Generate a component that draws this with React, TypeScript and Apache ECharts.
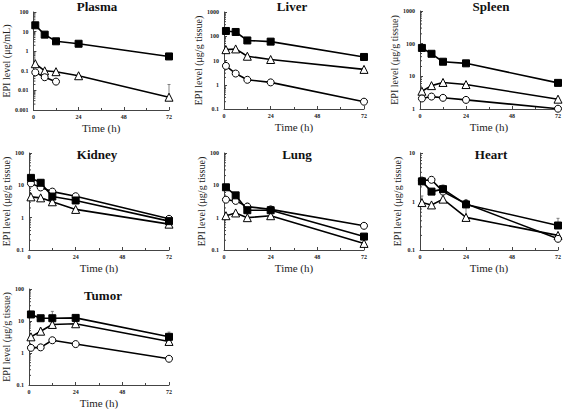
import React, { useEffect, useRef } from "react";
import * as echarts from "echarts";

// Sampling times (h)
const TIMES = [1, 6, 12, 24, 72];

// Values (µg/mL or µg/g tissue)
const plasmaSquare = [21, 7, 3.2, 2.4, 0.54];
const plasmaTriangle = [0.23, 0.1, 0.09, 0.056, 0.0045];
const plasmaCircle = [0.083, 0.047, 0.028, null, null];

const liverSquare = [165, 150, 67, 60, 14];
const liverTriangle = [28, 30, 15, 11, 4.3];
const liverCircle = [6, 2.9, 1.6, 1.25, 0.2];

const spleenSquare = [74, 49, 28, 25, 6.3];
const spleenTriangle = [3.5, 5.2, 6.5, 5.6, 2.0];
const spleenCircle = [2.1, 2.4, 2.2, 1.9, 1.02];

const kidneySquare = [17, 12, 4.5, 3.4, 0.78];
const kidneyTriangle = [4.4, 4.1, 3.1, 1.8, 0.63];
const kidneyCircle = [11.5, 8.6, 6.4, 4.6, 0.92];

const lungSquare = [8.7, 4.9, 1.7, 1.7, 0.26];
const lungTriangle = [1.15, 1.4, 1.0, 1.15, 0.16];
const lungCircle = [3.6, 3.3, 2.2, 1.8, 0.56];

const heartSquare = [2.6, 1.6, 1.8, 0.87, 0.32];
const heartTriangle = [0.95, 0.85, 1.12, 0.47, 0.2];
const heartCircle = [2.7, 2.8, 1.6, 0.9, 0.17];

const tumorSquare = [16, 12.2, 12.2, 12.5, 3.2];
const tumorTriangle = [3.2, 4.8, 7.8, 8.2, 2.3];
const tumorCircle = [1.45, 1.5, 2.5, 1.9, 0.66];

// Upper ends of the visible error bars (null = no visible bar)
const plasmaErr = { sq: [null, null, null, null, null], tri: [null, null, null, null, 0.02], cir: [null, null, null, null, null] };
const liverErr = { sq: [null, null, null, null, null], tri: [null, null, null, null, null], cir: [null, null, null, null, null] };
const spleenErr = { sq: [95, null, null, null, null], tri: [null, null, null, null, null], cir: [null, null, null, null, null] };
const kidneyErr = { sq: [null, 15, null, null, null], tri: [null, null, null, null, null], cir: [null, null, null, null, null] };
const lungErr = { sq: [null, null, null, null, null], tri: [null, null, null, null, null], cir: [null, null, 2.8, null, null] };
const heartErr = { sq: [null, null, 2.2, null, 0.45], tri: [1.3, null, null, 0.9, null], cir: [null, 3.2, null, 1.1, null] };
const tumorErr = { sq: [null, null, 20, null, 4.5], tri: [null, 6, null, null, null], cir: [null, 1.8, null, null, null] };

const PANELS = [
  { title: "Plasma", unit: "EPI level (μg/mL)", min: 0.001, max: 100, sq: plasmaSquare, tri: plasmaTriangle, cir: plasmaCircle, err: plasmaErr },
  { title: "Liver", unit: "EPI level (μg/g tissue)", min: 0.1, max: 1000, sq: liverSquare, tri: liverTriangle, cir: liverCircle, err: liverErr },
  { title: "Spleen", unit: "EPI level (μg/g tissue)", min: 1, max: 1000, sq: spleenSquare, tri: spleenTriangle, cir: spleenCircle, err: spleenErr },
  { title: "Kidney", unit: "EPI level (μg/g tissue)", min: 0.1, max: 100, sq: kidneySquare, tri: kidneyTriangle, cir: kidneyCircle, err: kidneyErr },
  { title: "Lung", unit: "EPI level (μg/g tissue)", min: 0.1, max: 100, sq: lungSquare, tri: lungTriangle, cir: lungCircle, err: lungErr },
  { title: "Heart", unit: "EPI level (μg/g tissue)", min: 0.1, max: 10, sq: heartSquare, tri: heartTriangle, cir: heartCircle, err: heartErr },
  { title: "Tumor", unit: "EPI level (μg/g tissue)", min: 0.1, max: 100, sq: tumorSquare, tri: tumorTriangle, cir: tumorCircle, err: tumorErr },
];

// Layout (pixels)
const LAYOUT = [
  { left: 29, top: 12, height: 98, titleX: 97, titleY: 0 },
  { left: 224, top: 12, height: 97, titleX: 292, titleY: 0 },
  { left: 420, top: 11, height: 98, titleX: 491, titleY: 0 },
  { left: 29, top: 153, height: 97, titleX: 97, titleY: 148 },
  { left: 224, top: 153, height: 97, titleX: 297, titleY: 148 },
  { left: 420, top: 153, height: 97, titleX: 491, titleY: 148 },
  { left: 29, top: 289, height: 98, titleX: 103, titleY: 289 },
];
const PLOT_W = 140;
const SERIF = "Liberation Serif, Times New Roman, serif";

function minorLogTicks(min: number, max: number) {
  const out: number[][] = [];
  const lo = Math.round(Math.log10(min));
  const hi = Math.round(Math.log10(max));
  for (let k = lo; k < hi; k++) {
    for (let m = 2; m <= 9; m++) out.push([0, m * Math.pow(10, k)]);
  }
  return out;
}

export default function App() {
  const ref = useRef<HTMLDivElement>(null);
  useEffect(() => {
    if (!ref.current) return;
    const chart = echarts.init(ref.current, undefined, { renderer: "svg" });
    const grids: any[] = [];
    const xAxes: any[] = [];
    const yAxes: any[] = [];
    const series: any[] = [];
    const titles: any[] = [];
    PANELS.forEach((p, i) => {
      const L = LAYOUT[i];
      grids.push({ left: L.left, top: L.top, width: PLOT_W, height: L.height });
      xAxes.push({
        gridIndex: i,
        type: "value",
        min: 0,
        max: 72,
        interval: 24,
        name: "Time (h)",
        nameLocation: "middle",
        nameGap: 12,
        nameTextStyle: { fontFamily: SERIF, fontSize: 11, color: "#222" },
        axisLine: { lineStyle: { color: "#444", width: 1 } },
        axisTick: { inside: true, length: 3, lineStyle: { color: "#444" } },
        minorTick: { show: true, splitNumber: 2, length: 2, lineStyle: { color: "#444" } },
        splitLine: { show: false },
        axisLabel: { fontFamily: SERIF, fontSize: 6, fontWeight: "bold", color: "#222", margin: 4 },
      });
      yAxes.push({
        gridIndex: i,
        type: "log",
        logBase: 10,
        min: p.min,
        max: p.max,
        name: p.unit,
        nameLocation: "middle",
        nameRotate: 90,
        nameGap: 18,
        nameTextStyle: { fontFamily: SERIF, fontSize: 10, color: "#222" },
        axisLine: { show: true, lineStyle: { color: "#444", width: 1 } },
        axisTick: { show: true, inside: true, length: 3, lineStyle: { color: "#444" } },
        splitLine: { show: false },
        axisLabel: {
          fontFamily: SERIF,
          fontSize: 6,
          fontWeight: "bold",
          color: "#222",
          margin: 5,
          formatter: (v: number) => String(parseFloat(v.toPrecision(3))),
        },
      });
      titles.push({
        text: p.title,
        left: L.titleX,
        top: L.titleY,
        padding: 0,
        textAlign: "center",
        textStyle: { fontFamily: SERIF, fontSize: 13, fontWeight: "bold", color: "#111" },
      });
      series.push({
        type: "custom",
        xAxisIndex: i,
        yAxisIndex: i,
        silent: true,
        data: minorLogTicks(p.min, p.max),
        renderItem: (params: any, api: any) => {
          const c = api.coord([api.value(0), api.value(1)]);
          return {
            type: "line",
            shape: { x1: c[0], y1: c[1], x2: c[0] + 2, y2: c[1] },
            style: { stroke: "#444", lineWidth: 1 },
          };
        },
      });
      // error bars
      const errData: number[][] = [];
      (["sq", "tri", "cir"] as const).forEach((k) => {
        const vals = (p as any)[k] as (number | null)[];
        const ups = (p.err as any)[k] as (number | null)[];
        TIMES.forEach((t, j) => {
          if (ups[j] != null && vals[j] != null) errData.push([t, vals[j] as number, ups[j] as number]);
        });
      });
      series.push({
        type: "custom",
        xAxisIndex: i,
        yAxisIndex: i,
        silent: true,
        z: 1,
        data: errData,
        renderItem: (params: any, api: any) => {
          const a = api.coord([api.value(0), api.value(1)]);
          const b = api.coord([api.value(0), api.value(2)]);
          return {
            type: "group",
            children: [
              { type: "line", shape: { x1: a[0], y1: a[1], x2: b[0], y2: b[1] }, style: { stroke: "#666", lineWidth: 0.8 } },
              { type: "line", shape: { x1: b[0] - 1.5, y1: b[1], x2: b[0] + 1.5, y2: b[1] }, style: { stroke: "#666", lineWidth: 0.8 } },
            ],
          };
        },
      });
      const mk = (vals: (number | null)[], symbol: string, size: number, filled: boolean) => ({
        type: "line",
        xAxisIndex: i,
        yAxisIndex: i,
        data: TIMES.map((t, j) => (vals[j] == null ? [t, null] : [t, vals[j]])),
        symbol,
        symbolSize: size,
        showAllSymbol: true,
        connectNulls: false,
        lineStyle: { color: "#000", width: 1.6 },
        itemStyle: { color: filled ? "#000" : "#fff", borderColor: "#000", borderWidth: 1 },
        z: filled ? 4 : 3,
      });
      series.push(mk(p.tri, "triangle", 8, false));
      series.push(mk(p.cir, "circle", 7, false));
      series.push(mk(p.sq, "rect", 7, true));
    });
    chart.setOption({
      animation: false,
      backgroundColor: "#fff",
      textStyle: { fontFamily: SERIF },
      title: titles,
      grid: grids,
      xAxis: xAxes,
      yAxis: yAxes,
      series,
    });
    return () => chart.dispose();
  }, []);
  return (
    <div
      ref={ref}
      style={{ position: "absolute", left: 0, top: 0, width: 564, height: 409 }}
    />
  );
}
